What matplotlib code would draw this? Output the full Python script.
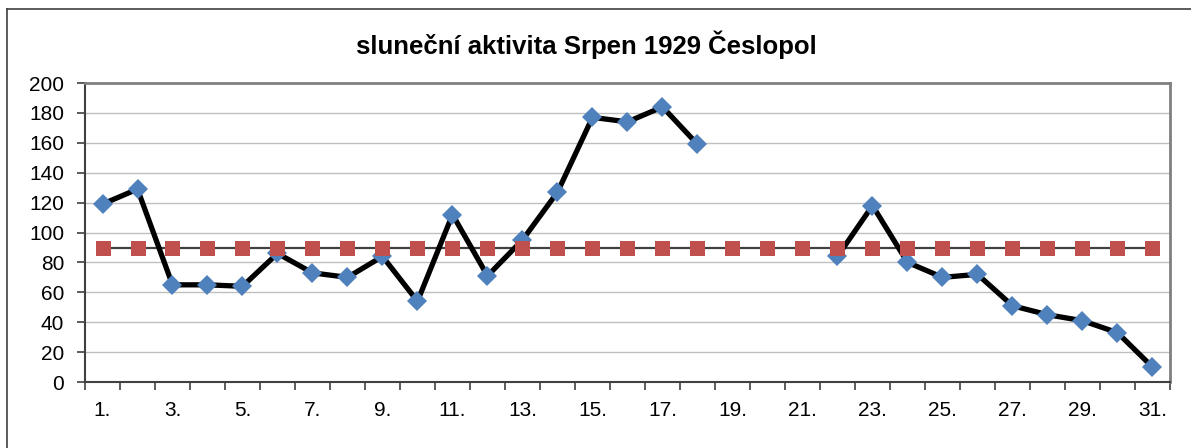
import numpy as np
import matplotlib
matplotlib.use("Agg")
import matplotlib.pyplot as plt
from matplotlib.lines import Line2D

plt.rcParams['font.family'] = ['Liberation Sans', 'DejaVu Sans']

days = list(range(1, 32))
activity = [119, 129, 65, 65, 64, 86, 73, 70, 84, 54, 112, 71, 95, 127, 177, 174, 184, 159,
            np.nan, np.nan, np.nan,
            84, 118, 80, 70, 72, 51, 45, 41, 33, 10]
average = [89.7] * 31
xlabels = [f"{d}." if d % 2 == 1 else "" for d in days]
title = "sluneční aktivita Srpen 1929 Česlopol"

W, H = 1191, 448
fig = plt.figure(figsize=(W / 100, H / 100), dpi=100)
L, R, T, B = 85, 1170, 83, 382
ax = fig.add_axes([L / W, 1 - B / H, (R - L) / W, (B - T) / H])

x = np.array(days)
ax.plot(x, average, color='#404040', lw=1.6, zorder=2)
ax.plot(x, activity, color='black', lw=3.8, zorder=2.5, solid_joinstyle='round')
ax.plot(x, activity, ls='none', marker='D', ms=10.5, mfc='#4F81BD', mec='#4F81BD', mew=0, zorder=3)
ax.plot(x, average, ls='none', marker='s', ms=10.8, mfc='#C0504D', mec='#C0504D', mew=0, zorder=3.5)

ax.set_xlim(0.5, 31.5)
ax.set_ylim(0, 200)
ax.set_yticks(np.arange(0, 201, 20))
ax.yaxis.grid(True, color='#BFBFBF', lw=1.0)
ax.set_axisbelow(True)

# category boundary ticks
ax.set_xticks(np.arange(0.5, 32, 1.0))
ax.set_xticklabels([])
ax.set_xticks(x, minor=True)
ax.set_xticklabels(xlabels, minor=True, fontsize=15)
ax.tick_params(axis='x', which='minor', length=0, pad=13.5)
ax.tick_params(axis='x', which='major', length=6, width=1.2, color='#404040', direction='out')
ax.tick_params(axis='y', length=6, width=1.2, color='#404040', labelsize=15, pad=9)

for s in ['left', 'bottom']:
    ax.spines[s].set_color('#404040')
    ax.spines[s].set_linewidth(1.5)
for s in ['top', 'right']:
    ax.spines[s].set_color('#808080')
    ax.spines[s].set_linewidth(2.0)

fig.text(586 / W, 1 - 45 / H, title, ha='center', va='center', fontsize=18.5, fontweight='bold')

# outer chart border (top and left visible)
fig.add_artist(Line2D([6.5 / W, 1.0], [1 - 9.5 / H, 1 - 9.5 / H], transform=fig.transFigure, color='#404040', lw=1.2))
fig.add_artist(Line2D([6.5 / W, 6.5 / W], [0, 1 - 9.5 / H], transform=fig.transFigure, color='#404040', lw=1.2))

fig.savefig('out.png', dpi=100)
